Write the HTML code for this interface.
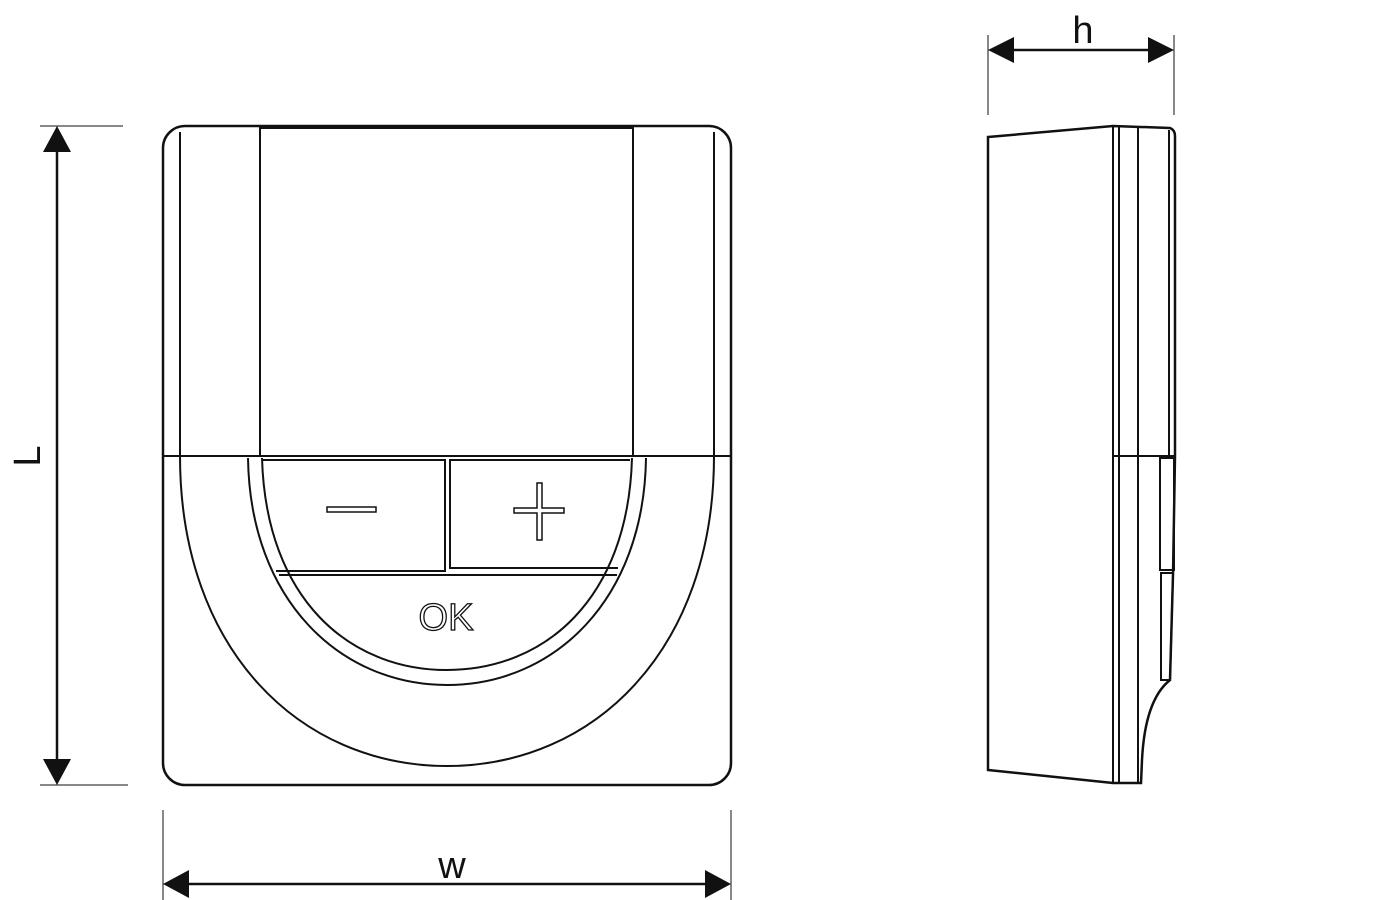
<!DOCTYPE html>
<html><head><meta charset="utf-8"><style>html,body{margin:0;padding:0;background:#fff}svg{display:block}</style></head>
<body>
<svg width="1400" height="900" viewBox="0 0 1400 900" xmlns="http://www.w3.org/2000/svg" fill="none" stroke="#111" stroke-width="2">
<!-- front -->
<rect x="163" y="126" width="568" height="659" rx="22" stroke-width="2.5"/>
<line x1="180" y1="132" x2="180" y2="456"/>
<line x1="714" y1="132" x2="714" y2="456"/>
<rect x="260" y="128" width="373" height="328"/>
<line x1="163" y1="456" x2="731" y2="456"/>
<path d="M180,456 C180,650 300,766 447,766 C594,766 714,650 714,456"/>
<path d="M248,458 C250,600 340,685 447,685 C554,685 644,600 646,458"/>
<path d="M262,458 C266,600 350,670 447,670 C544,670 628,600 632,458"/>
<path d="M262,460 H445 V571 H276"/>
<path d="M618,568 H450 V460 H630"/>
<line x1="279" y1="575" x2="617" y2="575"/>
<rect x="327" y="507" width="49" height="5" stroke-width="1.5"/>
<path d="M514,508 H537 V483 H542 V508 H564 V513 H542 V540 H537 V513 H514 Z" stroke-width="1.5"/>
<text x="446" y="630" font-family="Liberation Sans, sans-serif" font-size="38" text-anchor="middle" fill="#fff" stroke="#111" stroke-width="1.3">OK</text>
<!-- side -->
<path d="M988,137 L1113,126 L1170,128 Q1175,130 1175,136 L1175,456 L1173,575 L1170,680 Q1145,700 1142,760 L1141,783 L1113,783 L988,770 Z" stroke-width="2.5"/>
<line x1="1113" y1="126" x2="1113" y2="783"/>
<line x1="1119" y1="126" x2="1119" y2="783"/>
<line x1="1138" y1="128" x2="1138" y2="783"/>
<line x1="1169" y1="130" x2="1169" y2="456"/>
<line x1="1113" y1="456" x2="1175" y2="456"/>
<rect x="1160" y="458" width="14" height="112"/>
<path d="M1161,573 H1173 L1170,680 H1161 Z"/>
<!-- dimensions -->
<g stroke-width="2.5">
<line x1="57" y1="140" x2="57" y2="770"/>
<line x1="40" y1="126" x2="123" y2="126" stroke-width="1"/>
<line x1="40" y1="785" x2="128" y2="785" stroke-width="1"/>
<line x1="178" y1="884" x2="716" y2="884"/>
<line x1="163" y1="810" x2="163" y2="900" stroke-width="1"/>
<line x1="731" y1="810" x2="731" y2="900" stroke-width="1"/>
<line x1="1000" y1="50" x2="1160" y2="50"/>
<line x1="988" y1="35" x2="988" y2="115" stroke-width="1"/>
<line x1="1174" y1="35" x2="1174" y2="115" stroke-width="1"/>
</g>
<g fill="#111" stroke="none">
<polygon points="57,126 43,152 71,152"/>
<polygon points="57,785 43,759 71,759"/>
<polygon points="163,884 189,870 189,898"/>
<polygon points="731,884 705,870 705,898"/>
<polygon points="988,50 1014,37 1014,63"/>
<polygon points="1174,50 1148,37 1148,63"/>
<text x="452" y="878" font-family="Liberation Sans, sans-serif" font-size="38" text-anchor="middle">w</text>
<text x="1083" y="43" font-family="Liberation Sans, sans-serif" font-size="38" text-anchor="middle">h</text>
<text transform="translate(40,456) rotate(-90)" font-family="Liberation Sans, sans-serif" font-size="38" text-anchor="middle">L</text>
</g>
</svg>
</body></html>
